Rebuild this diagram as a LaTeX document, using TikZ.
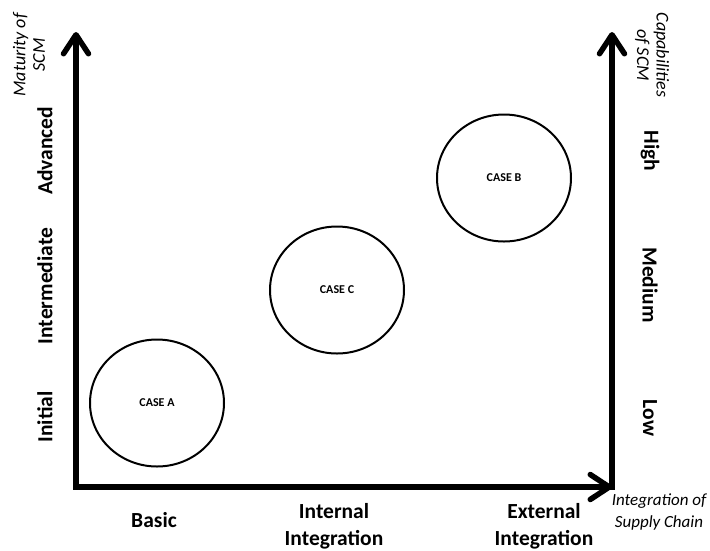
\documentclass[tikz,border=0pt]{standalone}
\usepackage{fontspec}
\setmainfont{Carlito}
\usetikzlibrary{arrows.meta,shapes.geometric}
\tikzset{
  axis/.style={line width=5.5pt, line cap=butt,
    arrows={-Straight Barb[length=19pt,width=25pt,round]}},
  casecircle/.style={draw, line width=2pt, ellipse, minimum width=134pt, minimum height=127pt, inner sep=0pt},
  caselabel/.style={font=\fontsize{12}{14}\selectfont\bfseries},
  level/.style={font=\fontsize{21.5}{27}\selectfont\bfseries, align=center, inner sep=0pt},
  axtitle/.style={font=\fontsize{18}{19.5}\selectfont\itshape, align=center, inner sep=0pt},
  axtitleb/.style={font=\fontsize{17}{22}\selectfont\itshape, align=center, inner sep=0pt},
}
\begin{document}
\begin{tikzpicture}[x=1pt,y=-1pt]
\useasboundingbox (0,0) rectangle (710,550);
% axes
\coordinate (ltip) at (76,32);
\coordinate (corner) at (76,487);
\coordinate (btip) at (612,487);
\coordinate (rbase) at (612,489.5);
\coordinate (rtip) at (612,32);
\draw[line width=5.5pt, line cap=round, arrows={Straight Barb[length=19pt,width=25pt,round]-Straight Barb[length=19pt,width=25pt,round]}] (ltip) -- (corner) -- (btip);
\draw[axis] (rbase) -- (rtip);
% circles
\node[casecircle] (ca) at (157,403) {};
\node[caselabel] (la) at (ca.center) {CASE A};
\node[casecircle] (cc) at (337,290) {};
\node[caselabel] (lc) at (cc.center) {CASE C};
\node[casecircle] (cb) at (504,178) {};
\node[caselabel] (lb) at (cb.center) {CASE B};
% left levels
\node[level, rotate=90] (initial) at (45,417) {Initial};
\node[level, rotate=90] (inter) at (45,286) {Intermediate};
\node[level, rotate=90] (adv) at (45,151) {Advanced};
% right levels
\node[level, rotate=-90] (low) at (650,418) {Low};
\node[level, rotate=-90] (med) at (650,285) {Medium};
\node[level, rotate=-90] (high) at (650,151) {High};
% bottom levels
\node[level] (basic) at (154,520) {Basic};
\node[level] (intint) at (334,526) {Internal\\Integration};
\node[level] (extint) at (544,526) {External\\Integration};
% axis titles
\node[axtitle, rotate=90] (mat) at (29,55) {Maturity of\\SCM};
\node[axtitle, rotate=-90] (cap) at (652,55) {Capabilities\\of SCM};
\node[axtitleb] (isc) at (659,512) {Integration of\\Supply Chain};
\end{tikzpicture}
\end{document}
